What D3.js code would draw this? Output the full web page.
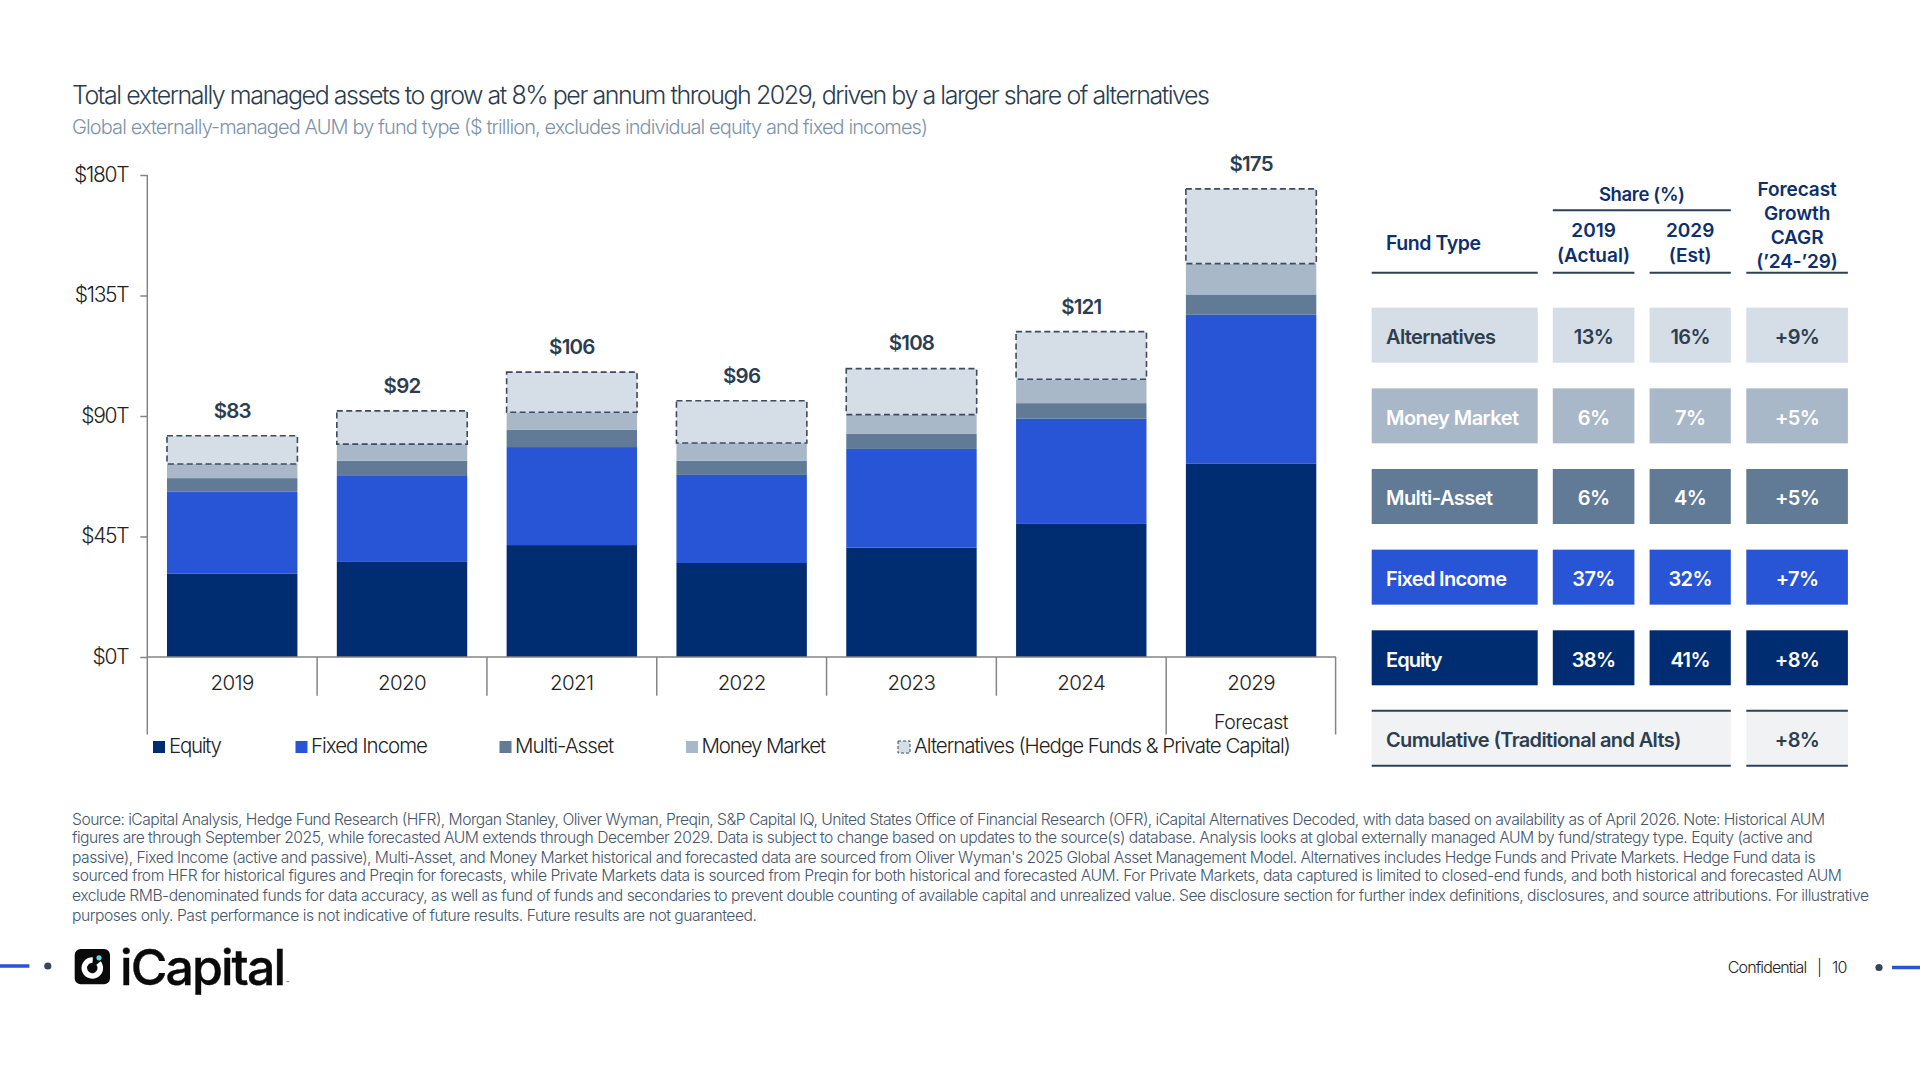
<!DOCTYPE html>
<html>
<head>
<meta charset="utf-8">
<script src="https://cdn.jsdelivr.net/npm/d3@7"></script>
<style>
  html, body { margin: 0; padding: 0; background: #fff; }
  svg { display: block; }
  text { font-family: Inter, "Noto Sans", sans-serif; white-space: pre; }
</style>
</head>
<body>
<div id="chart-container"></div>
<script>
// values, $ trillion
const years = ["2019", "2020", "2021", "2022", "2023", "2024", "2029"];
const equity = [31.2, 35.5, 41.8, 35.1, 40.8, 49.7, 72.3];
const fixedIncome = [30.5, 32.1, 36.6, 32.9, 36.9, 39.3, 55.5];
const multiAsset = [5.1, 5.7, 6.4, 5.3, 5.6, 5.8, 7.6];
const moneyMarket = [5.3, 6.2, 6.6, 6.6, 7.2, 8.9, 11.5];
const alternatives = [10.5, 12.4, 15.0, 15.8, 17.2, 17.8, 27.9];
const totals = [83, 92, 106, 96, 108, 121, 175];
const yTicks = [0, 45, 90, 135, 180];

const seriesNames = ["Equity", "Fixed Income", "Multi-Asset", "Money Market", "Alternatives"];
const seriesValues = [equity, fixedIncome, multiAsset, moneyMarket, alternatives];
const seriesColors = ["#002d72", "#2855d5", "#617a96", "#a9b8c9", "#d5dde6"];
const legendLabels = ["Equity", "Fixed Income", "Multi-Asset", "Money Market", "Alternatives (Hedge Funds & Private Capital)"];

// table, top row first
const fundRows = ["Alternatives", "Money Market", "Multi-Asset", "Fixed Income", "Equity"];
const share2019 = ["13%", "6%", "6%", "37%", "38%"];
const share2029 = ["16%", "7%", "4%", "32%", "41%"];
const cagr = ["+9%", "+5%", "+5%", "+7%", "+8%"];
const rowColors = ["#d5dde6", "#a9b8c9", "#617a96", "#2855d5", "#002d72"];
const rowText = ["#2d3e50", "#fff", "#fff", "#fff", "#fff"];

const title = "Total externally managed assets to grow at 8% per annum through 2029, driven by a larger share of alternatives";
const subtitle = "Global externally-managed AUM by fund type ($ trillion, excludes individual equity and fixed incomes)";
const footnote = [
  "Source: iCapital Analysis, Hedge Fund Research (HFR), Morgan Stanley, Oliver Wyman, Preqin, S&P Capital IQ, United States Office of Financial Research (OFR), iCapital Alternatives Decoded, with data based on availability as of April 2026. Note: Historical AUM",
  "figures are through September 2025, while forecasted AUM extends through December 2029. Data is subject to change based on updates to the source(s) database. Analysis looks at global externally managed AUM by fund/strategy type. Equity (active and",
  "passive), Fixed Income (active and passive), Multi-Asset, and Money Market historical and forecasted data are sourced from Oliver Wyman's 2025 Global Asset Management Model. Alternatives includes Hedge Funds and Private Markets. Hedge Fund data is",
  "sourced from HFR for historical figures and Preqin for forecasts, while Private Markets data is sourced from Preqin for both historical and forecasted AUM. For Private Markets, data captured is limited to closed-end funds, and both historical and forecasted AUM",
  "exclude RMB-denominated funds for data accuracy, as well as fund of funds and secondaries to prevent double counting of available capital and unrealized value. See disclosure section for further index definitions, disclosures, and source attributions. For illustrative",
  "purposes only. Past performance is not indicative of future results. Future results are not guaranteed."
];

const svg = d3.select("#chart-container").append("svg")
  .attr("width", 1920).attr("height", 1080).attr("viewBox", "0 0 1920 1080");

// text helper, stretches to the measured width when one is given
function label(parent, str, x, y, size, color, weight, anchor, width) {
  const t = parent.append("text")
    .attr("x", x).attr("y", y)
    .attr("dy", "0.36em")
    .attr("text-anchor", anchor || "start")
    .style("font-size", size + "px")
    .style("font-weight", weight || 400)
    .attr("fill", color)
    .text(str);
  if (width) t.attr("textLength", width).attr("lengthAdjust", "spacing");
  return t;
}

label(svg, title, 72, 95.3, 25, "#2b3d50", 300, "start", 1138);
label(svg, subtitle, 72, 126.3, 20, "#7e93a7", 300, "start", 856);

// chart
const x = d3.scaleBand().domain(years).range([147.3, 1336]).paddingInner(0.232).paddingOuter(0.116);
const y = d3.scaleLinear().domain([0, 180]).range([657, 175]);

const stack = years.map((yr, i) => {
  let base = 0;
  return seriesValues.map((vals, s) => {
    const seg = { year: yr, s, y0: base, y1: base + vals[i] };
    base = seg.y1;
    return seg;
  });
}).flat();

svg.append("g").selectAll("rect")
  .data(stack)
  .enter()
  .append("rect")
  .attr("x", d => x(d.year))
  .attr("y", d => y(d.y1))
  .attr("width", x.bandwidth())
  .attr("height", d => y(d.y0) - y(d.y1))
  .attr("fill", d => seriesColors[d.s])
  .attr("stroke", d => d.s === 4 ? "#3d4b5c" : "none")
  .attr("stroke-width", 1.6)
  .attr("stroke-dasharray", "6 3.4");

years.forEach((yr, i) => {
  const stackTop = d3.sum(seriesValues, v => v[i]);
  label(svg, "$" + totals[i], x(yr) + x.bandwidth() / 2, y(stackTop) - 25.5, 20.5, "#2b3d50", 600, "middle").style("letter-spacing", "-0.8px");
});

const axisColor = "#858585";
const yAxis = svg.append("g")
  .attr("transform", "translate(147.3,0)")
  .call(d3.axisLeft(y).tickValues(yTicks).tickSize(7).tickPadding(12).tickFormat(d => `$${d}T`));
yAxis.select(".domain").remove();
yAxis.selectAll("line").attr("stroke", axisColor).attr("stroke-width", 1.5);
yAxis.selectAll("text").attr("fill", "#222").attr("dy", "0.3em").style("font-size", "21px").style("font-weight", 300).style("letter-spacing", "-1.3px");

// axis lines and the multi-level category separators
const axes = svg.append("g").attr("stroke", axisColor).attr("stroke-width", 1.5);
axes.append("line").attr("x1", 147.3).attr("x2", 147.3).attr("y1", y(180)).attr("y2", 734.5);
axes.append("line").attr("x1", 147.3).attr("x2", x.range()[1]).attr("y1", y(0)).attr("y2", y(0));
const step = x.step();
years.slice(1).forEach(yr => {
  const tx = x(yr) - step * 0.116;
  axes.append("line").attr("x1", tx).attr("x2", tx).attr("y1", y(0)).attr("y2", yr === "2029" ? 734.5 : 695.7);
});
axes.append("line").attr("x1", 1335.6).attr("x2", 1335.6).attr("y1", y(0)).attr("y2", 734.5);

years.forEach(yr => {
  label(svg, yr, x(yr) + x.bandwidth() / 2, 682.4, 20.5, "#222", 300, "middle").style("letter-spacing", "-0.6px");
});
label(svg, "Forecast", x("2029") + x.bandwidth() / 2, 722, 19.5, "#222", 300, "middle").style("letter-spacing", "-0.5px");

// legend
const legendX = [153, 295.5, 499.5, 686, 898];
const legendTextX = [169, 311, 515, 701.5, 914];
const legendWidth = [53, 117, 99, 124.5, 377];
legendLabels.forEach((name, i) => {
  const sw = svg.append("rect")
    .attr("x", legendX[i]).attr("y", 741)
    .attr("width", 12).attr("height", 12)
    .attr("fill", seriesColors[i]);
  if (i === 4) sw.attr("stroke", "#3d4b5c").attr("stroke-width", 1).attr("stroke-dasharray", "3 2");
  label(svg, name, legendTextX[i], 746, 20.5, "#222", 300, "start", legendWidth[i]);
});

// table
const colX = [1371.7, 1552.8, 1649.6, 1746.3];
const colW = [166, 81.6, 81.2, 101.6];
const rowY = d3.scalePoint().domain(fundRows).range([307.7, 630.3]);
const rowH = 55;
const colValues = [fundRows, share2019, share2029, cagr];
const nameWidth = [110, 133, 107, 121, 56.5];
const table = svg.append("g");

fundRows.forEach((fund, r) => {
  colX.forEach((cx, c) => {
    table.append("rect")
      .attr("x", cx).attr("y", rowY(fund))
      .attr("width", colW[c]).attr("height", rowH)
      .attr("fill", rowColors[r]);
    const cy = rowY(fund) + rowH / 2 + 1.5;
    if (c === 0) label(table, colValues[c][r], cx + 14.3, cy, 20, rowText[r], 600, "start", nameWidth[r]);
    else label(table, colValues[c][r], cx + colW[c] / 2, cy, 20, rowText[r], 600, "middle").style("letter-spacing", "-0.6px");
  });
});

// table header
const headColor = "#0e2f6e";
const ruleColor = "#2d4156";
function rule(x1, x2, yy) {
  table.append("line").attr("x1", x1).attr("x2", x2).attr("y1", yy).attr("y2", yy)
    .attr("stroke", ruleColor).attr("stroke-width", 2);
}
colX.forEach((cx, c) => rule(cx, cx + colW[c], 272.7));
rule(colX[1], colX[2] + colW[2], 210.3);
label(table, "Fund Type", 1386, 243, 19.5, headColor, 600, "start", 95);
label(table, "Share (%)", colX[1] + 89, 194, 18.5, headColor, 600, "middle").style("letter-spacing", "-0.35px");
label(table, "2019", colX[1] + colW[1] / 2, 230.6, 19, headColor, 600, "middle");
label(table, "(Actual)", colX[1] + colW[1] / 2, 254.8, 19, headColor, 600, "middle");
label(table, "2029", colX[2] + colW[2] / 2, 230.6, 19, headColor, 600, "middle");
label(table, "(Est)", colX[2] + colW[2] / 2, 254.8, 19, headColor, 600, "middle");
["Forecast", "Growth", "CAGR", "(’24-’29)"].forEach((s, i) => {
  label(table, s, colX[3] + colW[3] / 2, [189.4, 213.3, 237.2, 261][i], 19, headColor, 600, "middle").style("letter-spacing", "-0.1px");
});

// cumulative row
[[colX[0], colX[2] + colW[2]], [colX[3], colX[3] + colW[3]]].forEach(([a, b]) => {
  table.append("rect").attr("x", a).attr("y", 710.7).attr("width", b - a).attr("height", 55).attr("fill", "#f1f2f4");
  rule(a, b, 710.7);
  rule(a, b, 765.7);
});
label(table, "Cumulative (Traditional and Alts)", 1386, 740, 20, "#2d3e50", 600, "start", 295.5);
label(table, "+8%", colX[3] + colW[3] / 2, 740, 20, "#2d3e50", 600, "middle").style("letter-spacing", "-0.6px");

// footnote
const noteY = [819.4, 837.4, 857, 875.6, 895.5, 915.4];
const noteW = [1753, 1740.7, 1743.5, 1770, 1797, 685];
footnote.forEach((line, i) => label(svg, line, 72, noteY[i], 15.7, "#45566a", 300, "start", noteW[i]));

// footer
svg.append("line").attr("x1", 0).attr("x2", 29.4).attr("y1", 966).attr("y2", 966).attr("stroke", "#2855d5").attr("stroke-width", 3.5);
svg.append("circle").attr("cx", 47.8).attr("cy", 966).attr("r", 3.6).attr("fill", "#33465c");
svg.append("line").attr("x1", 1892).attr("x2", 1920).attr("y1", 967.5).attr("y2", 967.5).attr("stroke", "#2855d5").attr("stroke-width", 3.5);
svg.append("circle").attr("cx", 1879).attr("cy", 967.5).attr("r", 3.6).attr("fill", "#33465c");
label(svg, "Confidential   |   10", 1727.8, 967, 16, "#222", 300, "start", 119.5);

// logo mark
const logo = svg.append("g");
logo.append("rect").attr("x", 74.7).attr("y", 949).attr("width", 35.3).attr("height", 35.3).attr("rx", 6).attr("fill", "#0a0a0a");
logo.append("path")
  .attr("transform", "translate(92.3,968)")
  .attr("d", d3.arc().innerRadius(5.2).outerRadius(10.8).startAngle(0.9).endAngle(2 * Math.PI + 0.05)())
  .attr("fill", "#fff");
logo.append("circle").attr("cx", 99).attr("cy", 957.8).attr("r", 2.6).attr("fill", "#62d3e3");
label(logo, "iCapital", 120, 967, 50, "#0a0a0a", 500, "start", 166).style("stroke", "#0a0a0a").style("stroke-width", 0.4);
label(logo, "™", 286, 983, 5, "#0a0a0a", 400, "start");
</script>
</body>
</html>
